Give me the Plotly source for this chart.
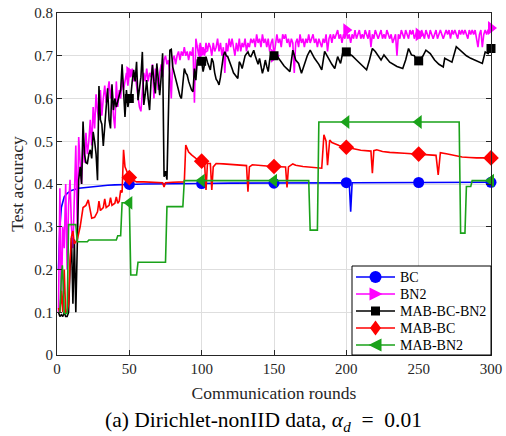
import plotly.graph_objects as go
import numpy as np

# ---------------- data ----------------
x_ticks = [0, 50, 100, 150, 200, 250, 300]
y_ticks = [0, 0.1, 0.2, 0.3, 0.4, 0.5, 0.6, 0.7, 0.8]
marker_rounds = [50, 100, 150, 200, 250, 300]

# BC (blue)
bc_rounds = [1, 2, 3, 4, 5, 7, 10, 15, 20, 25, 30, 35, 40, 45, 50, 60, 70, 80, 90, 100,
             120, 140, 160, 180, 200, 202, 203, 204, 206, 220, 240, 260, 280, 300]
bc_acc = [0.20, 0.30, 0.345, 0.36, 0.37, 0.378, 0.385, 0.39, 0.392, 0.394, 0.396, 0.397, 0.398, 0.398, 0.399,
          0.400, 0.400, 0.401, 0.401, 0.401, 0.402, 0.402, 0.402, 0.402, 0.403, 0.403, 0.335, 0.403, 0.403,
          0.403, 0.403, 0.404, 0.404, 0.404]

# BN2 (magenta), one value per round 1..300
bn2_rounds = list(range(1, 301))
bn2_acc = [
    0.10, 0.39, 0.12, 0.30, 0.25, 0.40, 0.20, 0.35, 0.41, 0.30, 0.25, 0.38, 0.49, 0.30, 0.51,
    0.45, 0.40, 0.50, 0.45, 0.52, 0.47, 0.50, 0.55, 0.49, 0.58, 0.53, 0.61, 0.57, 0.55, 0.62,
    0.56, 0.60, 0.63, 0.59, 0.62, 0.64, 0.60, 0.63, 0.56, 0.53, 0.64, 0.58, 0.62, 0.60, 0.65,
    0.62, 0.64, 0.66, 0.63, 0.66, 0.65, 0.67, 0.64, 0.66, 0.63, 0.60, 0.58, 0.57, 0.62, 0.66,
    0.64, 0.67, 0.64, 0.66, 0.65, 0.68, 0.60, 0.67, 0.65, 0.62, 0.66, 0.68, 0.65, 0.69, 0.70,
    0.68, 0.69, 0.66, 0.60, 0.69, 0.70, 0.68, 0.70, 0.71, 0.69, 0.71, 0.70, 0.72, 0.70, 0.71,
    0.69, 0.71, 0.70, 0.72, 0.59, 0.74, 0.72, 0.70, 0.73, 0.71, 0.72, 0.70, 0.73, 0.71, 0.73,
    0.72, 0.70, 0.73, 0.71, 0.72, 0.74, 0.71, 0.73, 0.70, 0.72, 0.66, 0.73, 0.71, 0.74, 0.72,
    0.74, 0.72, 0.70, 0.73, 0.71, 0.74, 0.71, 0.73, 0.72, 0.74, 0.71, 0.73, 0.72, 0.74, 0.73,
    0.74, 0.72, 0.75, 0.73, 0.74, 0.72, 0.75, 0.73, 0.74, 0.72, 0.74, 0.71, 0.73, 0.74, 0.70,
    0.73, 0.75, 0.73, 0.74, 0.72, 0.75, 0.74, 0.75, 0.73, 0.74, 0.72, 0.74, 0.73, 0.66, 0.73,
    0.74, 0.72, 0.75, 0.73, 0.74, 0.72, 0.74, 0.73, 0.75, 0.73, 0.74, 0.75, 0.73, 0.74, 0.72,
    0.74, 0.73, 0.72, 0.74, 0.73, 0.75, 0.71, 0.74, 0.75, 0.73, 0.75, 0.74, 0.75, 0.76, 0.74,
    0.75, 0.73, 0.75, 0.74, 0.76, 0.74, 0.75, 0.73, 0.75, 0.74, 0.76, 0.74, 0.75, 0.76, 0.74,
    0.75, 0.74, 0.76, 0.75, 0.74, 0.76, 0.72, 0.75, 0.74, 0.76, 0.75, 0.74, 0.75, 0.76, 0.74,
    0.75, 0.74, 0.76, 0.75, 0.74, 0.75, 0.73, 0.74, 0.75, 0.70, 0.75, 0.74, 0.76, 0.75, 0.74,
    0.76, 0.75, 0.74, 0.76, 0.75, 0.76, 0.74, 0.75, 0.76, 0.75, 0.74, 0.76, 0.75, 0.74, 0.76,
    0.75, 0.74, 0.76, 0.75, 0.74, 0.75, 0.76, 0.74, 0.75, 0.76, 0.75, 0.74, 0.75, 0.76, 0.75,
    0.76, 0.74, 0.76, 0.75, 0.76, 0.75, 0.74, 0.76, 0.75, 0.76, 0.75, 0.76, 0.75, 0.74, 0.76,
    0.75, 0.76, 0.75, 0.76, 0.74, 0.72, 0.75, 0.76, 0.72, 0.75, 0.76, 0.75, 0.76, 0.76, 0.765,
]

# MAB-BC-BN2 (black): per round 1..150, then sparser
mbb_head = [
    0.10, 0.09, 0.094, 0.09, 0.10, 0.09, 0.09, 0.10, 0.20, 0.274,
    0.12, 0.27, 0.10, 0.27, 0.41, 0.44, 0.40, 0.546, 0.47, 0.45,
    0.448, 0.47, 0.48, 0.46, 0.522, 0.50, 0.47, 0.409, 0.629, 0.55,
    0.54, 0.489, 0.55, 0.58, 0.624, 0.55, 0.53, 0.633, 0.573, 0.60,
    0.58, 0.593, 0.603, 0.62, 0.68, 0.60, 0.557, 0.62, 0.58, 0.60,
    0.605, 0.64, 0.667, 0.64, 0.686, 0.596, 0.62, 0.65, 0.709, 0.585,
    0.61, 0.643, 0.60, 0.573, 0.64, 0.678, 0.64, 0.612, 0.682, 0.64,
    0.608, 0.65, 0.706, 0.417, 0.43, 0.41, 0.60, 0.713, 0.715, 0.674,
    0.66, 0.645, 0.636, 0.62, 0.606, 0.60, 0.64, 0.67, 0.66, 0.655,
    0.64, 0.628, 0.62, 0.616, 0.67, 0.643, 0.69, 0.69, 0.682, 0.687,
    0.663, 0.68, 0.698, 0.685, 0.675, 0.667, 0.694, 0.685, 0.66, 0.645,
    0.64, 0.632, 0.65, 0.68, 0.70, 0.709, 0.70, 0.698, 0.69, 0.68,
    0.67, 0.66, 0.655, 0.65, 0.647, 0.686, 0.68, 0.67, 0.69, 0.70,
    0.705, 0.709, 0.70, 0.698, 0.705, 0.713, 0.70, 0.69, 0.68, 0.694,
    0.675, 0.659, 0.672, 0.69, 0.675, 0.663, 0.69, 0.706, 0.706, 0.70,
]
mbb_tail_rounds = [152, 155, 157, 161, 163, 165, 167, 169, 171, 173, 175, 178, 181, 183, 185, 188,
                   190, 192, 194, 196, 198, 201, 204, 207, 210, 214, 216, 218, 220, 224, 226, 230,
                   235, 239, 241, 243, 245, 247, 249, 251, 253, 255, 258, 261, 264, 267, 268, 270,
                   273, 276, 278, 280, 283, 286, 290, 294, 296, 298, 300]
mbb_tail_acc = [0.70, 0.686, 0.676, 0.663, 0.713, 0.69, 0.682, 0.659, 0.68, 0.70, 0.713, 0.694,
                0.68, 0.667, 0.71, 0.69, 0.68, 0.67, 0.698, 0.682, 0.715, 0.706, 0.70, 0.69,
                0.68, 0.667, 0.69, 0.717, 0.71, 0.69, 0.702, 0.685, 0.675, 0.67, 0.69, 0.717,
                0.702, 0.70, 0.686, 0.69, 0.70, 0.713, 0.705, 0.69, 0.68, 0.674, 0.694, 0.69,
                0.685, 0.721, 0.715, 0.709, 0.70, 0.694, 0.688, 0.682, 0.709, 0.705, 0.717]
mbb_rounds = list(range(1, 151)) + mbb_tail_rounds
mbb_acc = mbb_head + mbb_tail_acc

# MAB-BC (red)
mbc_rounds = [1, 2, 3, 4, 5, 6, 7, 8, 9, 10, 11, 12, 13, 14, 16, 18, 20, 21.6, 24, 26, 28, 29, 30,
              32, 33, 34, 36, 37, 38, 40, 41, 42, 43, 44, 45, 46, 47, 48, 49, 50, 52, 55, 60, 65,
              70, 73, 74, 75, 80, 85, 88, 89, 91, 93, 96, 99, 101, 102, 103, 104, 106, 107, 108,
              110, 115, 120, 125, 130, 131, 132, 133, 135, 140, 145, 150, 155, 158, 159, 160, 163,
              165, 170, 175, 180, 183, 184.5, 186, 187, 188.5, 190, 195, 200, 205, 210, 217, 218,
              219, 221, 225, 230, 240, 250, 260, 262, 263.5, 265, 270, 275, 280, 285, 290, 300]
mbc_acc = [0.11, 0.10, 0.15, 0.10, 0.20, 0.10, 0.10, 0.12, 0.22, 0.277, 0.29, 0.26, 0.265, 0.27,
           0.30, 0.345, 0.35, 0.363, 0.32, 0.322, 0.335, 0.36, 0.338, 0.345, 0.365, 0.345, 0.35,
           0.368, 0.35, 0.355, 0.37, 0.355, 0.36, 0.385, 0.38, 0.48, 0.44, 0.43, 0.42, 0.415,
           0.41, 0.405, 0.405, 0.404, 0.404, 0.403, 0.393, 0.403, 0.404, 0.405, 0.405, 0.491,
           0.475, 0.468, 0.46, 0.455, 0.452, 0.45, 0.386, 0.448, 0.448, 0.386, 0.44, 0.448,
           0.447, 0.446, 0.445, 0.444, 0.443, 0.382, 0.44, 0.445, 0.443, 0.442, 0.441, 0.44,
           0.44, 0.392, 0.44, 0.447, 0.444, 0.441, 0.439, 0.437, 0.437, 0.515, 0.50, 0.444,
           0.503, 0.497, 0.49, 0.486, 0.482, 0.479, 0.477, 0.425, 0.478, 0.48, 0.476, 0.474,
           0.472, 0.47, 0.468, 0.467, 0.421, 0.473, 0.47, 0.467, 0.463, 0.462, 0.461, 0.461]

# MAB-BN2 (green)
mbn_rounds = [1, 2, 3, 3.7, 4.5, 5, 7, 8, 13, 14, 21, 22, 41, 42, 44, 45, 50, 51, 55, 56, 75, 76,
              87, 88, 174, 175, 180, 181, 278, 279, 282, 283, 286, 287, 300]
mbn_acc = [0.10, 0.10, 0.18, 0.21, 0.15, 0.097, 0.097, 0.305, 0.305, 0.265, 0.265, 0.269, 0.269,
           0.279, 0.279, 0.356, 0.356, 0.187, 0.187, 0.217, 0.217, 0.347, 0.347, 0.408, 0.408,
           0.292, 0.292, 0.545, 0.545, 0.285, 0.285, 0.394, 0.394, 0.408, 0.408]

names = ["BC", "BN2", "MAB-BC-BN2", "MAB-BC", "MAB-BN2"]
colors = ["#0000ff", "#ff00ff", "#000000", "#ff0000", "#1aa21a"]
symbols = ["circle", "triangle-right", "square", "diamond", "triangle-left"]
msizes = [11, 12, 9, 12, 12]
xs = [bc_rounds, bn2_rounds, mbb_rounds, mbc_rounds, mbn_rounds]
ys = [bc_acc, bn2_acc, mbb_acc, mbc_acc, mbn_acc]

FONT = "Liberation Serif"
TXT = "#262626"

# plot-area geometry in pixels (for paper-coordinate decorations)
W, H = 506, 436
ML, MR, MT, MB = 57, 15, 13, 81
PW, PH = W - ML - MR, H - MT - MB


def px(x):
    return (x - ML) / PW


def py(y):
    return (H - MB - y) / PH


fig = go.Figure()
for n, x, y, c, s, ms in zip(names, xs, ys, colors, symbols, msizes):
    fig.add_trace(go.Scatter(x=x, y=y, mode="lines", name=n, line=dict(color=c, width=1.6),
                             showlegend=False, hoverinfo="skip"))
    my = np.interp(marker_rounds, x, y)
    fig.add_trace(go.Scatter(x=marker_rounds, y=my, mode="markers", name=n,
                             marker=dict(symbol=s, size=ms, color=c, line=dict(width=0)),
                             showlegend=False, cliponaxis=False, hoverinfo="skip"))

# ---- hand-drawn legend box (MATLAB style) ----
shapes = []
annotations = []
LX0, LX1, LY0, LY1 = 352, 491, 266, 355
shapes.append(dict(type="rect", xref="paper", yref="paper", x0=px(LX0), x1=px(LX1),
                   y0=py(LY1), y1=py(LY0), line=dict(color="#000000", width=1),
                   fillcolor="white", layer="above"))
row_y = [277, 294, 311, 328, 345]
kx0, kx1, kc = 356, 395, 375.5


def pth(pts):
    return "M" + " L".join(f"{px(a):.5f},{py(b):.5f}" for a, b in pts) + " Z"


for i, (n, c, s) in enumerate(zip(names, colors, symbols)):
    ry = row_y[i]
    shapes.append(dict(type="line", xref="paper", yref="paper", x0=px(kx0), x1=px(kx1),
                       y0=py(ry), y1=py(ry), line=dict(color=c, width=1.6), layer="above"))
    if s == "circle":
        shapes.append(dict(type="circle", xref="paper", yref="paper", x0=px(kc - 6), x1=px(kc + 6),
                           y0=py(ry + 6), y1=py(ry - 6), fillcolor=c, line=dict(width=0),
                           layer="above"))
    elif s == "square":
        shapes.append(dict(type="rect", xref="paper", yref="paper", x0=px(kc - 4.5), x1=px(kc + 4.5),
                           y0=py(ry + 4.5), y1=py(ry - 4.5), fillcolor=c, line=dict(width=0),
                           layer="above"))
    elif s == "triangle-right":
        shapes.append(dict(type="path", xref="paper", yref="paper",
                           path=pth([(kc - 6, ry - 6.5), (kc + 7, ry), (kc - 6, ry + 6.5)]),
                           fillcolor=c, line=dict(width=0), layer="above"))
    elif s == "triangle-left":
        shapes.append(dict(type="path", xref="paper", yref="paper",
                           path=pth([(kc + 6, ry - 6.5), (kc - 7, ry), (kc + 6, ry + 6.5)]),
                           fillcolor=c, line=dict(width=0), layer="above"))
    elif s == "diamond":
        shapes.append(dict(type="path", xref="paper", yref="paper",
                           path=pth([(kc, ry - 7.5), (kc + 5.5, ry), (kc, ry + 7.5), (kc - 5.5, ry)]),
                           fillcolor=c, line=dict(width=0), layer="above"))
    annotations.append(dict(text=n, xref="paper", yref="paper", x=px(398), y=py(ry),
                            xanchor="left", yanchor="middle", showarrow=False,
                            font=dict(family=FONT, size=14, color="#000000")))

annotations.append(dict(
    text="(a) Dirichlet-nonIID data, <i>α</i><sub><i>d</i></sub>&#8194;=&#8194;0.01",
    xref="paper", yref="paper", x=px(263), y=py(421),
    xanchor="center", yanchor="middle", showarrow=False,
    font=dict(family=FONT, size=21.5, color="#000000")))

axis_common = dict(showgrid=True, gridcolor="#dedede", gridwidth=1, zeroline=False,
                   showline=True, linecolor=TXT, linewidth=1, mirror="ticks",
                   ticks="inside", ticklen=5, tickcolor=TXT, tickwidth=1, automargin=False,
                   tickfont=dict(family=FONT, size=15, color=TXT))

fig.update_layout(
    template="none",
    width=W, height=H,
    margin=dict(l=ML, r=MR, t=MT, b=MB, pad=0),
    paper_bgcolor="white", plot_bgcolor="white",
    font=dict(family=FONT, color=TXT),
    showlegend=False,
    xaxis=dict(range=[0, 300], tickvals=x_ticks, **axis_common,
               title=dict(text="Communication rounds", font=dict(family=FONT, size=17.5, color=TXT),
                          standoff=10)),
    yaxis=dict(range=[0, 0.8], tickvals=y_ticks, **axis_common,
               title=dict(text="Test accuracy", font=dict(family=FONT, size=17.5, color=TXT),
                          standoff=6)),
    shapes=shapes,
    annotations=annotations,
)

fig.write_html("out.html")
